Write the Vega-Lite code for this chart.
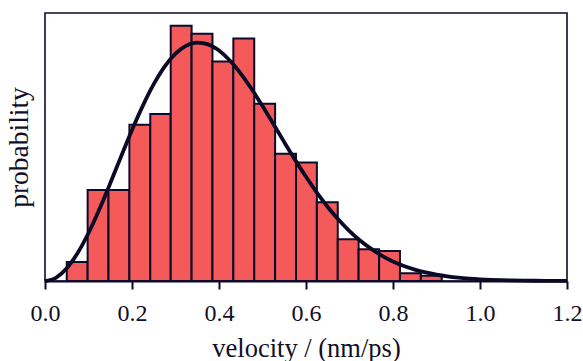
{
  "$schema": "https://vega.github.io/schema/vega-lite/v6.json",
  "width": 522,
  "height": 268,
  "autosize": "none",
  "padding": {"left": 45, "top": 13, "right": 16, "bottom": 80},
  "background": "white",
  "config": {
    "view": {"stroke": "#0d0b2b", "strokeWidth": 1.6},
    "font": "Liberation Serif",
    "axis": {"grid": false, "labelFont": "Liberation Serif", "titleFont": "Liberation Serif"}
  },
  "datasets": {
    "hist": [
      {"v0": 0.050, "v1": 0.098, "p": 0.188},
      {"v0": 0.098, "v1": 0.146, "p": 0.898},
      {"v0": 0.146, "v1": 0.194, "p": 0.898},
      {"v0": 0.194, "v1": 0.242, "p": 1.540},
      {"v0": 0.242, "v1": 0.289, "p": 1.646},
      {"v0": 0.289, "v1": 0.337, "p": 2.517},
      {"v0": 0.337, "v1": 0.385, "p": 2.438},
      {"v0": 0.385, "v1": 0.433, "p": 2.165},
      {"v0": 0.433, "v1": 0.481, "p": 2.392},
      {"v0": 0.481, "v1": 0.529, "p": 1.747},
      {"v0": 0.529, "v1": 0.577, "p": 1.254},
      {"v0": 0.577, "v1": 0.625, "p": 1.168},
      {"v0": 0.625, "v1": 0.673, "p": 0.777},
      {"v0": 0.673, "v1": 0.721, "p": 0.412},
      {"v0": 0.721, "v1": 0.768, "p": 0.313},
      {"v0": 0.768, "v1": 0.816, "p": 0.296},
      {"v0": 0.816, "v1": 0.864, "p": 0.076},
      {"v0": 0.864, "v1": 0.912, "p": 0.052}
    ],
    "curve": [
      {"v": 0.0, "f": 0.0},
      {"v": 0.025, "f": 0.0319},
      {"v": 0.05, "f": 0.1257},
      {"v": 0.075, "f": 0.2758},
      {"v": 0.1, "f": 0.4734},
      {"v": 0.125, "f": 0.7071},
      {"v": 0.15, "f": 0.9636},
      {"v": 0.175, "f": 1.2288},
      {"v": 0.2, "f": 1.4886},
      {"v": 0.225, "f": 1.7300},
      {"v": 0.25, "f": 1.9416},
      {"v": 0.275, "f": 2.1146},
      {"v": 0.3, "f": 2.2423},
      {"v": 0.325, "f": 2.3214},
      {"v": 0.35, "f": 2.3513},
      {"v": 0.375, "f": 2.3339},
      {"v": 0.4, "f": 2.2730},
      {"v": 0.425, "f": 2.1746},
      {"v": 0.45, "f": 2.0453},
      {"v": 0.475, "f": 1.8931},
      {"v": 0.5, "f": 1.7248},
      {"v": 0.525, "f": 1.5483},
      {"v": 0.55, "f": 1.3695},
      {"v": 0.575, "f": 1.1946},
      {"v": 0.6, "f": 1.0276},
      {"v": 0.625, "f": 0.8721},
      {"v": 0.65, "f": 0.7302},
      {"v": 0.675, "f": 0.6037},
      {"v": 0.7, "f": 0.4924},
      {"v": 0.725, "f": 0.3969},
      {"v": 0.75, "f": 0.3163},
      {"v": 0.775, "f": 0.2485},
      {"v": 0.8, "f": 0.1931},
      {"v": 0.825, "f": 0.1482},
      {"v": 0.85, "f": 0.1124},
      {"v": 0.875, "f": 0.0843},
      {"v": 0.9, "f": 0.0625},
      {"v": 0.925, "f": 0.0457},
      {"v": 0.95, "f": 0.0331},
      {"v": 0.975, "f": 0.0237},
      {"v": 1.0, "f": 0.0168},
      {"v": 1.025, "f": 0.0118},
      {"v": 1.05, "f": 0.0081},
      {"v": 1.075, "f": 0.0056},
      {"v": 1.1, "f": 0.0038},
      {"v": 1.125, "f": 0.0025},
      {"v": 1.15, "f": 0.0017},
      {"v": 1.175, "f": 0.0011},
      {"v": 1.2, "f": 0.0007}
    ]
  },
  "layer": [
    {
      "data": {"name": "hist"},
      "mark": {"type": "bar", "fill": "#f55a5a", "stroke": "#0d0b2b", "strokeWidth": 2},
      "encoding": {
        "x": {
          "field": "v0", "type": "quantitative",
          "scale": {"domain": [0, 1.2], "nice": false, "zero": false},
          "axis": {
            "values": [0, 0.2, 0.4, 0.6, 0.8, 1.0, 1.2],
            "format": ".1f",
            "title": "velocity / (nm/ps)",
            "domain": true, "domainColor": "#0d0b2b", "domainWidth": 2.2,
            "ticks": true, "tickColor": "#0d0b2b", "tickWidth": 2, "tickSize": 8,
            "labelFont": "Liberation Serif", "labelFontSize": 24, "labelColor": "#100e28",
            "labelBaseline": "alphabetic", "labelPadding": 31, "labelFlush": false,
            "titleFont": "Liberation Serif", "titleFontSize": 26.5, "titleFontWeight": "normal",
            "titleColor": "#100e28", "titleBaseline": "alphabetic", "titleY": 75
          }
        },
        "x2": {"field": "v1"},
        "y": {
          "field": "p", "type": "quantitative",
          "scale": {"domain": [0, 2.643], "nice": false},
          "axis": {
            "title": "probability",
            "labels": false, "ticks": false, "domain": false,
            "titleFont": "Liberation Serif", "titleFontSize": 27.5, "titleFontWeight": "normal",
            "titleColor": "#100e28", "titleBaseline": "alphabetic", "titleX": -17.5, "titleAngle": 270
          }
        },
        "y2": {"datum": 0}
      }
    },
    {
      "data": {"name": "curve"},
      "mark": {"type": "line", "stroke": "#0b0a26", "strokeWidth": 3.8, "interpolate": "monotone"},
      "encoding": {
        "x": {"field": "v", "type": "quantitative"},
        "y": {"field": "f", "type": "quantitative"}
      }
    }
  ]
}
